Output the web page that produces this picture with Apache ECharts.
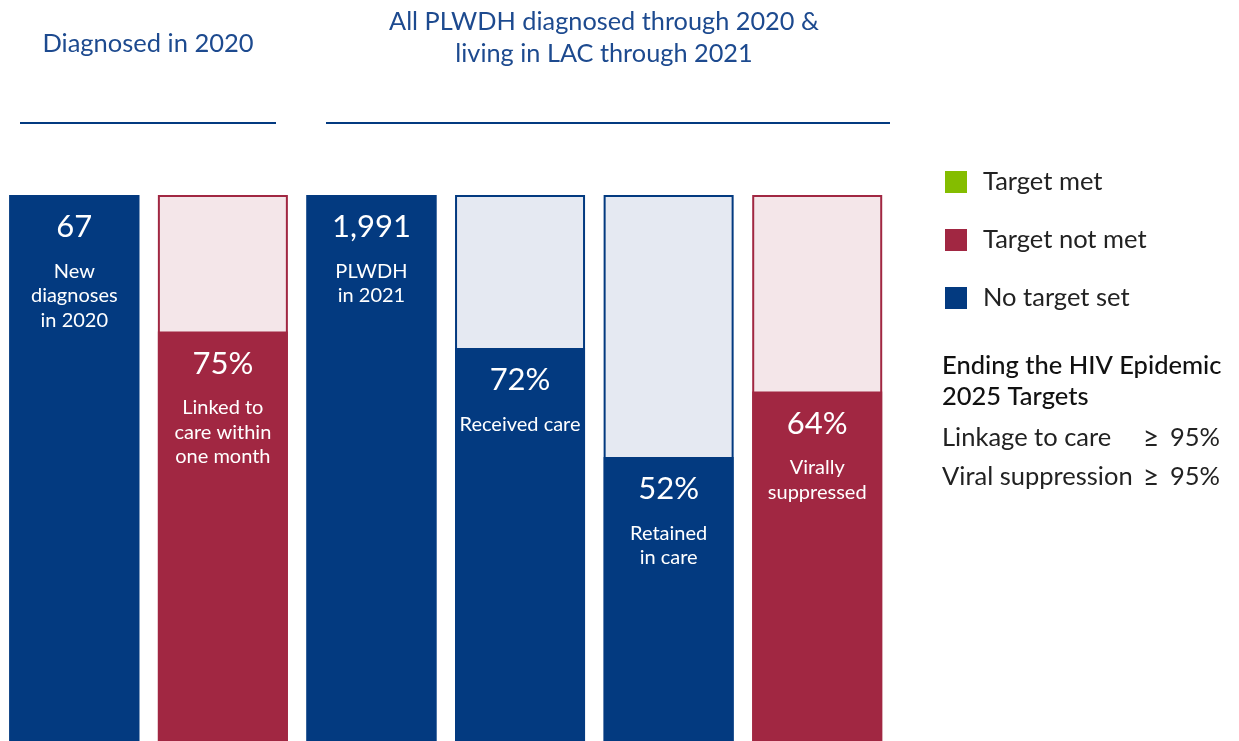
<!DOCTYPE html>
<html>
<head>
<meta charset="utf-8">
<script src="https://cdn.jsdelivr.net/npm/echarts@6/dist/echarts.min.js"></script>
<style>
html,body{margin:0;padding:0;background:#fff;}
#chart{width:1239px;height:741px;}
</style>
</head>
<body>
<div id="chart"></div>
<script>
// ---- data ----
const categories = ['New diagnoses', 'Linked to care', 'PLWDH', 'Received care', 'Retained in care', 'Virally suppressed'];
const fillPct = [100, 75, 100, 72, 52, 64];
const status = ['none', 'notmet', 'none', 'none', 'none', 'notmet'];
const bigLabels = ['67', '75%', '1,991', '72%', '52%', '64%'];
const subLabels = [
  ['New', 'diagnoses', 'in 2020'],
  ['Linked to', 'care within', 'one month'],
  ['PLWDH', 'in 2021'],
  ['Received care'],
  ['Retained', 'in care'],
  ['Virally', 'suppressed']
];
const legendNames = ['Target met', 'Target not met', 'No target set'];
const groupTitles = ['Diagnosed in 2020', 'All PLWDH diagnosed through 2020 &\nliving in LAC through 2021'];
const targetTitle = ['Ending the HIV Epidemic', '2025 Targets'];
const targetLines = [['Linkage to care', '≥', '95%'], ['Viral suppression', '≥', '95%']];

// ---- styles ----
const BLUE = '#033A80', RED = '#A12742', GREEN = '#84BD00';
const BLUE_BG = '#E5E9F2', RED_BG = '#F4E6E9';
const FONT = 'Lato, "Open Sans", sans-serif';
const HEAD = '#1D4A8F';

const chart = echarts.init(document.getElementById('chart'));

function labelFmt(p) {
  const i = p.dataIndex;
  return '{big|' + bigLabels[i] + '}\n' + subLabels[i].map(s => '{sub|' + s + '}').join('\n');
}
const barLabel = {
  show: true, position: 'insideTop', distance: 0, formatter: labelFmt,
  color: '#fff', fontFamily: FONT,
  rich: {
    big: { fontSize: 31, lineHeight: 64, color: '#fff', fontFamily: FONT },
    sub: { fontSize: 20, lineHeight: 24.5, color: '#fff', fontFamily: FONT }
  }
};

const bgData = fillPct.map((v, i) => ({
  value: 100,
  itemStyle: {
    color: status[i] === 'notmet' ? RED_BG : BLUE_BG,
    borderColor: status[i] === 'notmet' ? RED : BLUE,
    borderWidth: 2
  }
}));

function seriesFor(name, key, color) {
  return {
    name: name, type: 'bar', barWidth: 130, barGap: '-100%',
    itemStyle: { color: color },
    data: fillPct.map((v, i) => status[i] === key ? v : null),
    label: barLabel, z: 3
  };
}

const txt = (t, x, y, font, fill, extra) => Object.assign({
  type: 'text', x: x, y: y,
  style: Object.assign({ text: t, fill: fill, font: font, verticalAlign: 'middle' }, extra || {})
});

const option = {
  animation: false,
  grid: { left: -2.5, width: 894, top: 195, bottom: 0 },
  xAxis: { type: 'category', data: categories, show: false },
  yAxis: { type: 'value', min: 0, max: 100, show: false },
  legend: {
    data: legendNames, orient: 'vertical', left: 945, top: 169, padding: 0,
    icon: 'rect', itemWidth: 22, itemHeight: 22, itemGap: 32,
    textStyle: { fontSize: 25.5, color: '#222', fontFamily: FONT, lineHeight: 22, padding: [0, 0, 0, 11] },
    selectedMode: false
  },
  series: [
    { name: 'bg', type: 'bar', barWidth: 130, barGap: '-100%', data: bgData, z: 1, silent: true },
    seriesFor('Target met', 'met', GREEN),
    seriesFor('Target not met', 'notmet', RED),
    seriesFor('No target set', 'none', BLUE)
  ],
  graphic: [
    txt(groupTitles[0], 148, 44, '25.5px ' + FONT, HEAD, { align: 'center' }),
    txt(groupTitles[1], 604, 38, '25.3px ' + FONT, HEAD, { align: 'center', lineHeight: 32 }),
    { type: 'line', shape: { x1: 20, y1: 123, x2: 276, y2: 123 }, style: { stroke: BLUE, lineWidth: 2 } },
    { type: 'line', shape: { x1: 326, y1: 123, x2: 890, y2: 123 }, style: { stroke: BLUE, lineWidth: 2 } },
    txt(targetTitle[0], 942, 366, '500 25.5px ' + FONT, '#111'),
    txt(targetTitle[1], 942, 397, '500 25.5px ' + FONT, '#111'),
    txt(targetLines[0][0], 942, 438, '25.5px ' + FONT, '#222'),
    txt(targetLines[0][1], 1143, 438, '28px ' + FONT, '#222'),
    txt(targetLines[0][2], 1170, 438, '25.5px ' + FONT, '#222'),
    txt(targetLines[1][0], 942, 477, '25.5px ' + FONT, '#222'),
    txt(targetLines[1][1], 1143, 477, '28px ' + FONT, '#222'),
    txt(targetLines[1][2], 1170, 477, '25.5px ' + FONT, '#222')
  ]
};
chart.setOption(option);
</script>
</body>
</html>
